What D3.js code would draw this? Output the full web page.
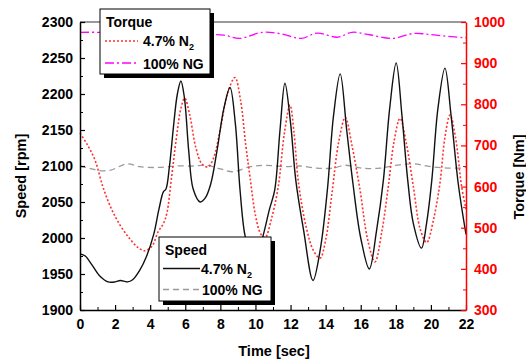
<!DOCTYPE html>
<html><head><meta charset="utf-8">
<script src="https://cdn.jsdelivr.net/npm/d3@7"></script>
<style>
html,body{margin:0;padding:0;background:#fff;}
svg{display:block;font-family:"Liberation Sans",Arial,sans-serif;font-weight:bold;}
</style></head>
<body><svg id="c" width="526" height="360"></svg>
<script>
// ---- data ----
const xTicks = [0,2,4,6,8,10,12,14,16,18,20,22];
const speedTicks = [1900,1950,2000,2050,2100,2150,2200,2250,2300];
const torqueTicks = [300,400,500,600,700,800,900,1000];

const speedN2T = [0,0.3,0.7,1.1,1.6,2.0,2.3,2.7,3.0,3.4,3.8,4.2,4.5,4.75,4.9,5.1,5.35,5.55,5.75,5.95,6.2,6.45,6.85,7.15,7.45,7.8,8.2,8.55,8.85,9.12,9.4,9.7,10.0,10.4,10.8,11.1,11.4,11.68,12.0,12.3,12.75,13.28,13.7,14.1,14.45,14.83,15.2,15.56,16.0,16.49,16.9,17.29,17.65,18.02,18.35,18.68,19.0,19.46,19.75,20.05,20.4,20.8,21.15,21.56,22.0];
const speedN2 = [1978,1975,1962,1948,1939,1939,1941,1939,1942,1955,1975,2005,2040,2064,2068,2100,2160,2200,2218,2195,2120,2068,2050,2056,2075,2120,2180,2209,2160,2067,2004,1980,1970,2000,2040,2067,2150,2215,2160,2080,2010,1941,1985,2067,2170,2228,2150,2075,2000,1957,2010,2080,2180,2243,2170,2080,2020,1986,2020,2080,2180,2236,2170,2075,2005];

const speedNGT = [0,0.5,1,1.7,2.7,3.4,4.5,5.5,6.5,7.2,8.0,8.7,9.7,10.6,11.7,12.5,13.5,14.4,15.1,16.1,17.1,18.0,19.0,20.0,21.5,22];
const speedNG = [2100,2097,2094,2094,2103,2099,2098,2100,2100,2101,2096,2092,2099,2101,2099,2100,2097,2097,2101,2097,2097,2101,2103,2099,2097,2098];

const torqueN2T = [0,0.4,0.85,1.3,1.8,2.3,2.8,3.3,3.7,4.1,4.45,4.75,4.95,5.2,5.5,5.75,5.97,6.25,6.6,6.95,7.3,7.6,8.0,8.4,8.83,9.15,9.45,9.7,10.0,10.3,10.55,10.9,11.3,11.65,11.97,12.2,12.45,12.9,13.3,13.68,14.0,14.35,14.75,15.12,15.5,15.96,16.4,16.81,17.2,17.57,17.9,18.24,18.6,19.0,19.4,19.76,20.15,20.52,20.8,21.09,21.4,21.75,22];
const torqueN2 = [730,703,665,600,545,505,475,452,444,455,490,510,535,616,720,790,815,775,695,655,648,668,740,825,865,810,700,620,530,485,476,520,600,730,798,730,610,500,445,426,470,580,710,768,700,592,470,417,490,600,710,766,705,600,495,464,520,610,720,774,720,600,545];

const torqueNGT = [0,1,2,3,4,5,6,7.2,8.2,9.1,10.4,11.5,12.6,13.5,14.7,15.5,16.5,17.8,19.0,20.3,21.8,22];
const torqueNG = [975,975,974,972,972,970,968,970,968,960,975,971,960,973,963,975,969,960,972,968,962,962];

// ---- scales ----
const svg = d3.select("#c");
const L=80, R=466, T=22, B=310;
const x = d3.scaleLinear().domain([0,22]).range([L,R]);
const yS = d3.scaleLinear().domain([1900,2300]).range([B,T]);
const yT = d3.scaleLinear().domain([300,1000]).range([B,T]);

// top frame
svg.append("line").attr("x1",L).attr("x2",R).attr("y1",T).attr("y2",T)
  .attr("stroke","#777").attr("stroke-width",1.5);

// ---- lines ----
function draw(ts, vs, yScale, color, dash, w){
  const pts = ts.map((t,i)=>[t,vs[i]]);
  const ln = d3.line().x(d=>x(d[0])).y(d=>yScale(d[1])).curve(d3.curveCatmullRom.alpha(0.5));
  svg.append("path").datum(pts).attr("d",ln).attr("fill","none")
    .attr("stroke",color).attr("stroke-width",w).attr("stroke-dasharray",dash);
}
draw(speedNGT, speedNG, yS, "#9a9a9a", "6,4", 1.3);
draw(torqueNGT, torqueNG, yT, "#ff00ff", "9,3,2,3", 1.3);
draw(torqueN2T, torqueN2, yT, "#ff3030", "2,2", 1.6);
draw(speedN2T, speedN2, yS, "#111", null, 1.4);

// ---- axes ----
const fs = "14px";
function styleAxis(g, color){
  g.select(".domain").attr("stroke",color).attr("stroke-width",1.5);
  g.selectAll(".tick line").attr("stroke",color).attr("stroke-width",1.2);
  g.selectAll("text").attr("fill",color).style("font-size",fs).style("font-weight","bold")
    .style("font-family",'"Liberation Sans",Arial,sans-serif');
}
// minor ticks
svg.append("g").attr("transform",`translate(0,${B})`)
  .call(d3.axisBottom(x).tickValues(d3.range(1,22,2)).tickSize(-3).tickFormat(""))
  .call(g=>{g.select(".domain").remove(); g.selectAll("line").attr("stroke","#000");});
svg.append("g").attr("transform",`translate(${L},0)`)
  .call(d3.axisLeft(yS).tickValues(d3.range(1925,2300,50)).tickSize(-3).tickFormat(""))
  .call(g=>{g.select(".domain").remove(); g.selectAll("line").attr("stroke","#000");});
svg.append("g").attr("transform",`translate(${R},0)`)
  .call(d3.axisRight(yT).tickValues(d3.range(350,1000,100)).tickSize(-3).tickFormat(""))
  .call(g=>{g.select(".domain").remove(); g.selectAll("line").attr("stroke","#ff0000");});

svg.append("g").attr("transform",`translate(0,${B})`)
  .call(d3.axisBottom(x).tickValues(xTicks).tickSize(-5).tickSizeOuter(0).tickPadding(9).tickFormat(d3.format("d")))
  .call(g=>styleAxis(g,"#000"));
svg.append("g").attr("transform",`translate(${L},0)`)
  .call(d3.axisLeft(yS).tickValues(speedTicks).tickSize(-5).tickSizeOuter(0).tickPadding(7).tickFormat(d3.format("d")))
  .call(g=>styleAxis(g,"#000"));
svg.append("g").attr("transform",`translate(${R},0)`)
  .call(d3.axisRight(yT).tickValues(torqueTicks).tickSize(-5).tickSizeOuter(0).tickPadding(8).tickFormat(d3.format("d")))
  .call(g=>styleAxis(g,"#ff0000"));

// axis titles
svg.append("text").attr("x",274).attr("y",356).attr("text-anchor","middle")
  .style("font-size","14.5px").text("Time [sec]");
svg.append("text").attr("transform","translate(26,176) rotate(-90)").attr("text-anchor","middle")
  .style("font-size","14.5px").text("Speed [rpm]");
svg.append("text").attr("transform","translate(524,177) rotate(-90)").attr("text-anchor","middle")
  .style("font-size","14.5px").text("Torque [Nm]");

// ---- legends ----
function legendBox(x0,y0,x1,y1){
  svg.append("rect").attr("x",x0+4).attr("y",y0+4).attr("width",x1-x0).attr("height",y1-y0).attr("fill","#000");
  svg.append("rect").attr("x",x0).attr("y",y0).attr("width",x1-x0).attr("height",y1-y0)
    .attr("fill","#fff").attr("stroke","#000").attr("stroke-width",1);
}
function legendLabel(xp, yp, main, sub){
  const t = svg.append("text").attr("x",xp).attr("y",yp).style("font-size","14px");
  t.append("tspan").text(main);
  if(sub){ t.append("tspan").attr("dy",4).style("font-size","9px").text(sub); }
}
// Torque legend
legendBox(100,9,210,74);
svg.append("text").attr("x",106).attr("y",26.5).style("font-size","14px").text("Torque");
svg.append("line").attr("x1",105).attr("x2",138).attr("y1",41).attr("y2",41)
  .attr("stroke","#ff3030").attr("stroke-width",1.6).attr("stroke-dasharray","2,2");
legendLabel(143,46,"4.7% N","2");
svg.append("line").attr("x1",105).attr("x2",138).attr("y1",63).attr("y2",63)
  .attr("stroke","#ff00ff").attr("stroke-width",1.3).attr("stroke-dasharray","9,3,2,3");
legendLabel(143,68.5,"100% NG");

// Speed legend
legendBox(159,237,271,301);
svg.append("text").attr("x",165).attr("y",254.5).style("font-size","14px").text("Speed");
svg.append("line").attr("x1",163).attr("x2",200).attr("y1",268.5).attr("y2",268.5)
  .attr("stroke","#111").attr("stroke-width",1.4);
legendLabel(201,273.5,"4.7% N","2");
svg.append("line").attr("x1",163).attr("x2",200).attr("y1",289.5).attr("y2",289.5)
  .attr("stroke","#9a9a9a").attr("stroke-width",1.3).attr("stroke-dasharray","6,4");
legendLabel(202,294.5,"100% NG");
</script></body></html>
